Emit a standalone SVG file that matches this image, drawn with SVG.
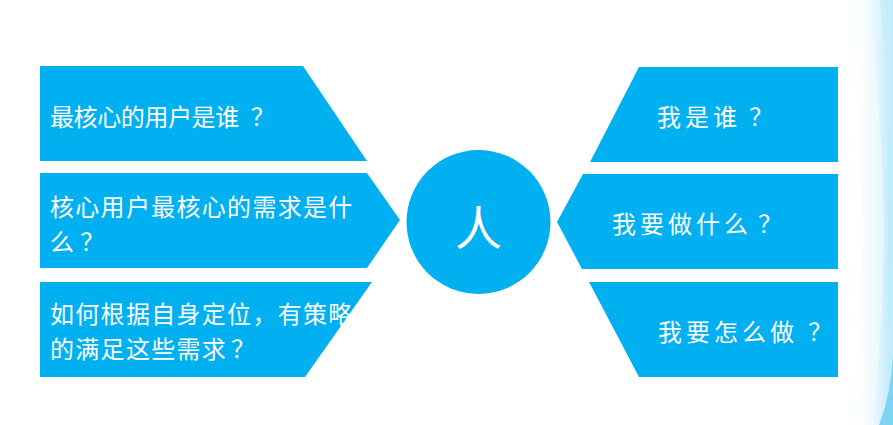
<svg xmlns="http://www.w3.org/2000/svg" width="893" height="425" viewBox="0 0 893 425">
  <style>
    .shape { fill: #00b0f0; }
    .lbl { fill: #ffffff; font-family: "Noto Sans CJK SC", "Noto Sans", sans-serif; font-size: 24px; }
    .l1 { letter-spacing: -0.4px; }
    .l2 { letter-spacing: 1.3px; }
    .r { letter-spacing: 4px; }
    .big { font-size: 47px; text-anchor: middle; }
  </style>
  <defs>
    <linearGradient id="sw1" x1="0" y1="0" x2="1" y2="0">
      <stop offset="0" stop-color="#ffffff" stop-opacity="0"/>
      <stop offset="1" stop-color="#d9f3fd"/>
    </linearGradient>
    <linearGradient id="sw2" x1="0" y1="0" x2="1" y2="0">
      <stop offset="0" stop-color="#e6f7fe" stop-opacity="0"/>
      <stop offset="1" stop-color="#b8e7fa"/>
    </linearGradient>
  </defs>
  <rect width="893" height="425" fill="#ffffff"/>
  <g id="background">
    <path d="M842 0 Q 880 212 848 425 L 893 425 L 893 0 Z" fill="url(#sw1)"/>
    <path d="M866 0 Q 898 210 872 425 L 893 425 L 893 0 Z" fill="url(#sw2)"/>
    <path d="M880 0 Q 900 200 884 425 L 893 425 L 893 0 Z" fill="#c4ecfb" opacity="0.6"/>
    <path d="M893 355 Q 891 395 879 425 L 893 425 Z" fill="#6ccdf3" opacity="0.8"/>
  </g>
  <g id="node-core-user">
    <polygon class="shape" points="40,66 303,66 367,161 40,161"/>
    <text class="lbl l1" x="50" y="125.5">最核心的用户是谁<tspan dx="12">？</tspan></text>
  </g>
  <g id="node-core-need">
    <polygon class="shape" points="40,173 367,173 400,220 367,268 40,268"/>
    <text class="lbl l2" x="50" y="216">核心用户最核心的需求是什</text>
    <text class="lbl l2" x="50" y="251">么<tspan dx="5">？</tspan></text>
  </g>
  <g id="node-strategy">
    <polygon class="shape" points="40,282 372,282 305,377 40,377"/>
    <text class="lbl l2" x="50" y="323">如何根据自身定位，有策略</text>
    <text class="lbl l2" x="50" y="358">的满足这些需求<tspan dx="4">？</tspan></text>
  </g>
  <g id="node-person">
    <circle class="shape" cx="478.5" cy="222" r="72"/>
    <text class="lbl big" x="478.5" y="245">人</text>
  </g>
  <g id="node-who">
    <polygon class="shape" points="639,67 838,67 838,162 590,162"/>
    <text class="lbl r" x="657" y="126">我是谁<tspan dx="8">？</tspan></text>
  </g>
  <g id="node-what">
    <polygon class="shape" points="583,174 838,174 838,269 582,269 557,222"/>
    <text class="lbl r" x="612" y="233">我要做什么<tspan dx="6">？</tspan></text>
  </g>
  <g id="node-how">
    <polygon class="shape" points="589,282 838,282 838,377 639,377"/>
    <text class="lbl r" x="658" y="341">我要怎么做<tspan dx="10">？</tspan></text>
  </g>
  <g id="connectors"/>
</svg>
